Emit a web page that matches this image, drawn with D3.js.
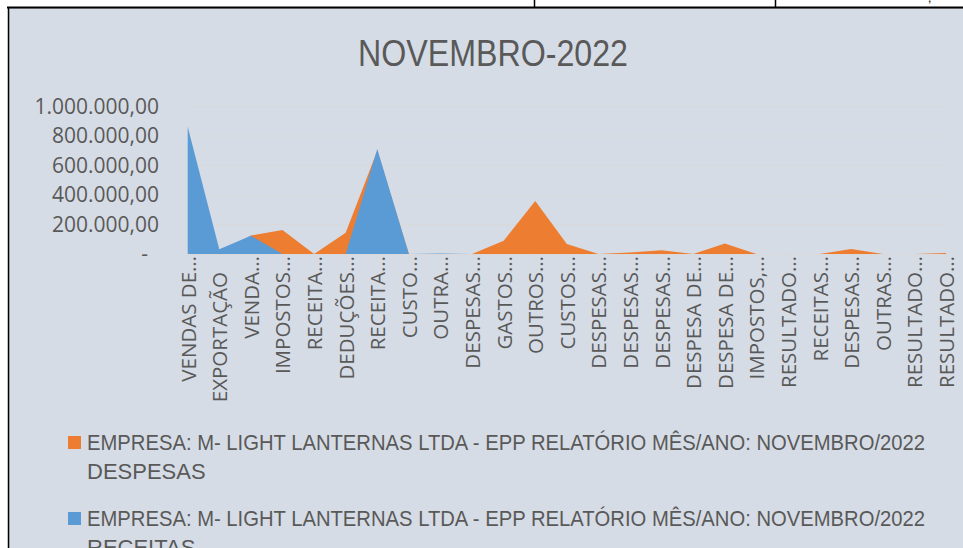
<!DOCTYPE html>
<html>
<head>
<meta charset="utf-8">
<script src="https://cdn.jsdelivr.net/npm/d3@7"></script>
<style>
  html, body { margin: 0; padding: 0; background: #fff; }
  svg { display: block; }
  text { white-space: pre; }
</style>
</head>
<body>
<div id="chart"></div>
<script>
// categorias (rótulos como aparecem no eixo, truncados pelo Excel)
const categories = [
  'VENDAS DE…', 'EXPORTAÇÃO   ', 'VENDA…', 'IMPOSTOS…', 'RECEITA…',
  'DEDUÇÕES…', 'RECEITA…', 'CUSTO…', 'OUTRA…', 'DESPESAS…',
  'GASTOS…', 'OUTROS…', 'CUSTOS…', 'DESPESAS…', 'DESPESAS…',
  'DESPESAS…', 'DESPESA DE…', 'DESPESA DE…', 'IMPOSTOS,…', 'RESULTADO…',
  'RECEITAS…', 'DESPESAS…', 'OUTRAS…', 'RESULTADO…', 'RESULTADO…'
];

const despesas = [
  0, 0, 126000, 163000, 0,
  144000, 700000, 0, 0, 0,
  90000, 359000, 68000, 0, 11000,
  25000, 0, 72000, 0, 0,
  0, 34000, 0, 0, 6000
];

const receitas = [
  863000, 32000, 124000, 0, 0,
  0, 712000, 0, 4000, 0,
  0, 0, 0, 0, 0,
  0, 0, 0, 0, 0,
  0, 0, 0, 0, 0
];

const yTicks = [0, 200000, 400000, 600000, 800000, 1000000];

const title = 'NOVEMBRO-2022';
const legendItems = [
  { lines: ['EMPRESA: M- LIGHT LANTERNAS LTDA - EPP RELATÓRIO MÊS/ANO: NOVEMBRO/2022', 'DESPESAS'], color: '#ED7D31' },
  { lines: ['EMPRESA: M- LIGHT LANTERNAS LTDA - EPP RELATÓRIO MÊS/ANO: NOVEMBRO/2022', 'RECEITAS'], color: '#5B9BD5' }
];

const width = 963;
const height = 548;
const textColor = '#595959';

const svg = d3.select('#chart')
  .append('svg')
  .attr('width', width)
  .attr('height', height);

// pedaço da planilha acima do gráfico
svg.append('rect').attr('width', width).attr('height', height).attr('fill', '#fff');
svg.append('rect')
  .attr('x', 9).attr('y', 8.5)
  .attr('width', width).attr('height', height)
  .attr('fill', '#D6DCE5')
  .attr('stroke', '#BFBFBF');
svg.append('line').attr('x1', 7).attr('x2', width).attr('y1', 7.5).attr('y2', 7.5)
  .attr('stroke', '#000').attr('stroke-width', 2);
svg.append('line').attr('x1', 8.5).attr('x2', 8.5).attr('y1', 7).attr('y2', height)
  .attr('stroke', '#000').attr('stroke-width', 1.5);
[534.5, 775.5].forEach(function(xx) {
  svg.append('line').attr('x1', xx).attr('x2', xx).attr('y1', 0).attr('y2', 7)
    .attr('stroke', '#000').attr('stroke-width', 1.5);
});
svg.append('text').attr('x', 928).attr('y', 2).text(',')
  .style('font-family', 'Liberation Sans, sans-serif').style('font-size', '12px');

// escalas
const x = d3.scalePoint()
  .domain(d3.range(categories.length))
  .range([187.7, 946]);

const y = d3.scaleLinear()
  .domain([0, 1000000])
  .range([254, 106.5]);

// grade
svg.append('g')
  .selectAll('line')
  .data(yTicks.slice(1))
  .enter()
  .append('line')
  .attr('x1', 187.7).attr('x2', 946)
  .attr('y1', (d) => y(d)).attr('y2', (d) => y(d))
  .attr('stroke', '#D9D9D9')
  .attr('stroke-width', 1);

// áreas
const area = d3.area()
  .x((d, i) => x(i))
  .y0(y(0))
  .y1((d) => y(d));

svg.append('path').datum(despesas).attr('d', area).attr('fill', '#ED7D31');
svg.append('path').datum(receitas).attr('d', area).attr('fill', '#5B9BD5');

// eixo x
const xAxis = svg.append('g')
  .attr('transform', 'translate(0,' + y(0) + ')')
  .call(d3.axisBottom(x).tickSize(5).tickFormat((i) => categories[i]));

xAxis.select('.domain').attr('stroke', '#D9D9D9');
xAxis.selectAll('.tick line').attr('stroke', '#D9D9D9');
xAxis.selectAll('.tick text')
  .attr('transform', 'rotate(-90)')
  .attr('text-anchor', 'end')
  .attr('x', -2)
  .attr('y', 0)
  .attr('dy', '0.36em')
  .attr('fill', textColor)
  .style('font-family', '"Open Sans", sans-serif')
  .style('font-size', '20.5px');

// eixo y
const fmt = d3.formatLocale({ decimal: ',', thousands: '.', grouping: [3], currency: ['', ''] }).format(',.2f');

const yAxis = svg.append('g')
  .attr('transform', 'translate(187.7,0)')
  .call(d3.axisLeft(y).tickValues(yTicks).tickSize(0).tickPadding(28.7)
    .tickFormat((d) => d === 0 ? '-  ' : fmt(d)));

yAxis.select('.domain').remove();
yAxis.selectAll('.tick text')
  .attr('fill', textColor)
  .style('font-family', '"Open Sans", sans-serif')
  .style('font-size', '21px');

// título
svg.append('text')
  .attr('x', 493)
  .attr('y', 66)
  .attr('text-anchor', 'middle')
  .attr('textLength', 270)
  .attr('lengthAdjust', 'spacingAndGlyphs')
  .attr('fill', textColor)
  .style('font-family', '"Liberation Sans Narrow", "Liberation Sans", sans-serif')
  .style('font-size', '36px')
  .text(title);

// legenda
const legend = svg.append('g');
legendItems.forEach(function(item, k) {
  const top = 436 + k * 76;
  legend.append('rect')
    .attr('x', 68).attr('y', top)
    .attr('width', 13).attr('height', 13)
    .attr('fill', item.color);
  item.lines.forEach(function(line, j) {
    const t = legend.append('text')
      .attr('x', 87)
      .attr('y', top + 14 + j * 29)
      .attr('fill', textColor)
      .style('font-family', '"Liberation Sans Narrow", "Liberation Sans", sans-serif')
      .style('font-size', '22px')
      .text(line);
    if (j === 0) {
      t.attr('textLength', 838).attr('lengthAdjust', 'spacingAndGlyphs');
    }
  });
});
</script>
</body>
</html>
